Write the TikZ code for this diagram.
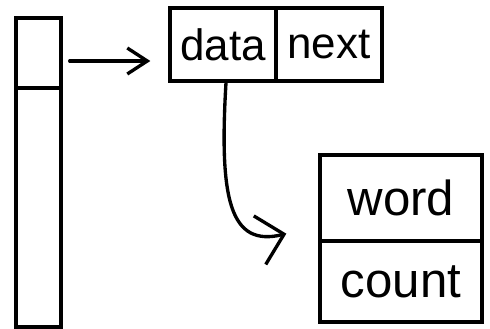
\documentclass[tikz,border=0pt]{standalone}
\usepackage{fontspec}
\setmainfont{Liberation Sans}
\usetikzlibrary{arrows.meta}
\tikzset{
  cell/.style={draw,line width=1.9pt,inner sep=0pt,font=\fontsize{25}{25}\selectfont},
  bigcell/.style={cell,font=\fontsize{28}{28}\selectfont},
  arr/.style={line width=1.9pt,line cap=round,-{Straight Barb[length=0.4cm,width=0.52cm,line width=1.9pt]}},
  bigarr/.style={line width=1.9pt,line cap=round,-{Straight Barb[length=0.5cm,width=1.0cm,line width=1.9pt]}}
}

\begin{document}
\begin{tikzpicture}
\useasboundingbox (0,0) rectangle (9.8,-6.58);
% bucket column
\node[cell,minimum width=0.9cm,minimum height=1.4cm] (slot) at (0.77,-1.06) {};
\node[cell,minimum width=0.9cm,minimum height=4.78cm] (rest) at (0.77,-4.15) {};
% list node
\node[cell,minimum width=2.12cm,minimum height=1.46cm] (data) at (4.46,-0.89) {data};
\node[cell,minimum width=2.12cm,minimum height=1.46cm] (next) at (6.58,-0.89) {next};
% record
\node[bigcell,minimum width=3.24cm,minimum height=1.72cm] (word) at (8.02,-3.96) {word};
\node[bigcell,minimum width=3.24cm,minimum height=1.62cm] (count) at (8.02,-5.63) {count};
% pointers
\draw[arr] ([shift={(0.14,-0.16)}]slot.east) -- ([shift={(-0.36,-0.33)}]data.west);
\coordinate (tip) at ([shift={(-0.64,0.18)}]word.south west);
\draw[bigarr] ([xshift=0.06cm]data.south) .. controls (4.38,-4.0) and (4.6,-4.95) .. (tip);
\end{tikzpicture}
\end{document}
